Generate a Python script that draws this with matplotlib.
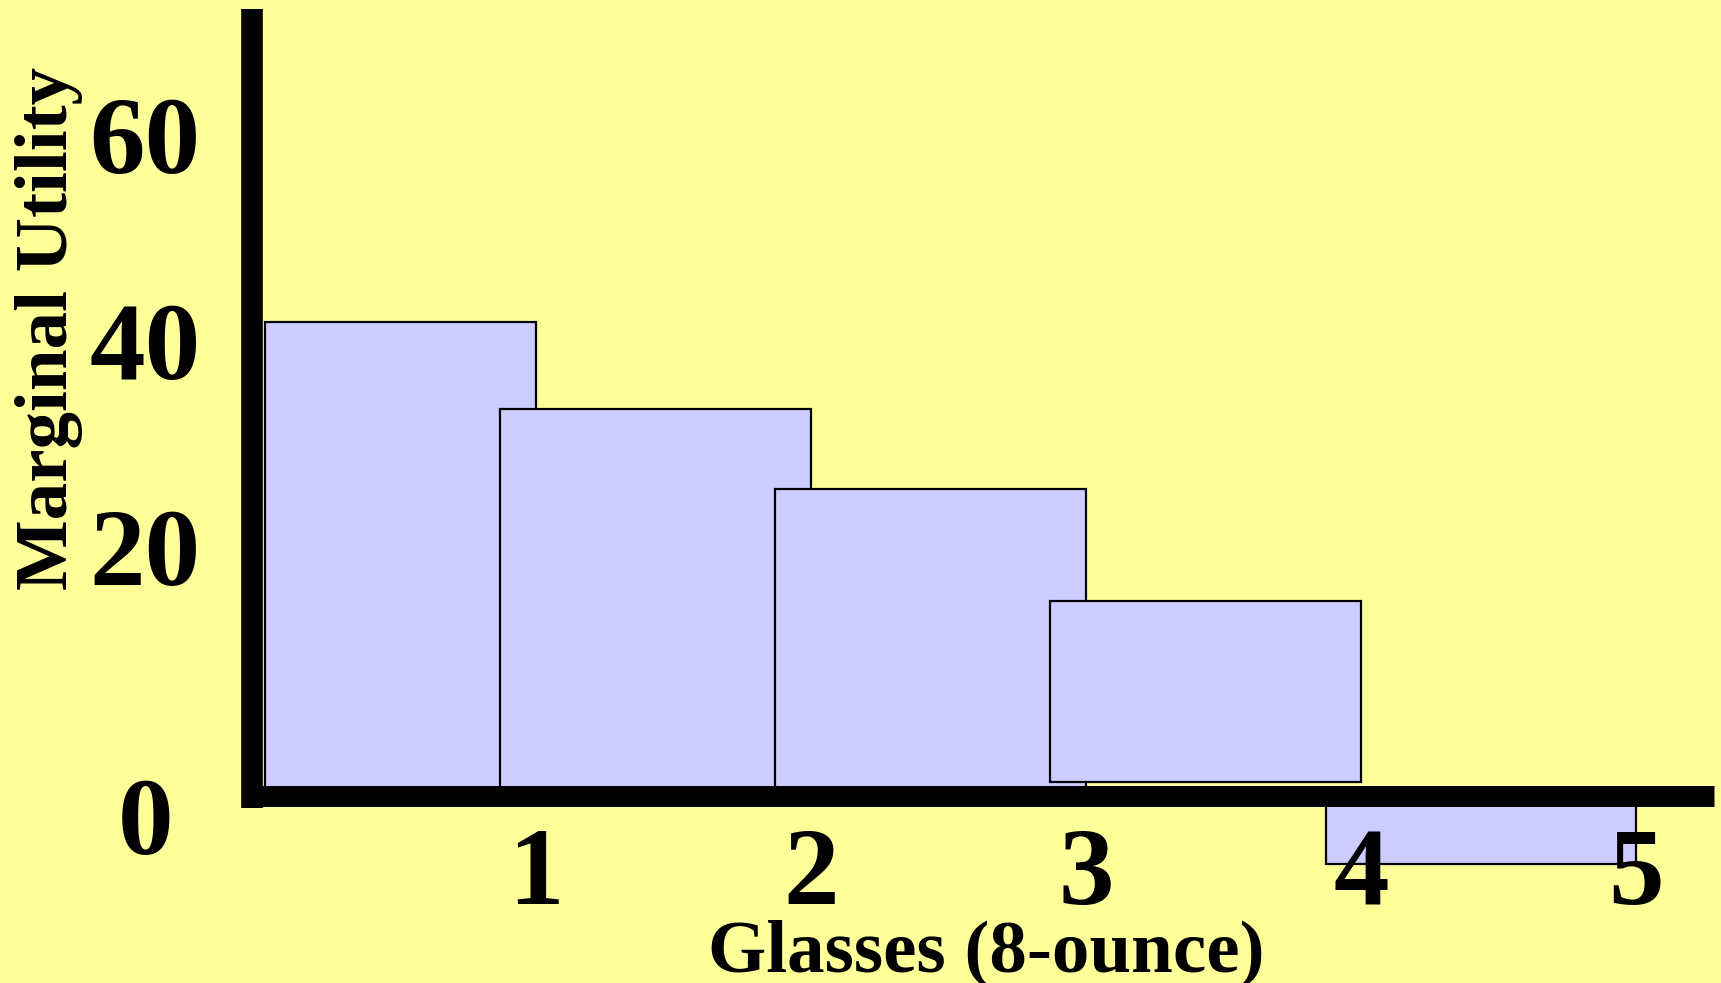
import numpy as np
import matplotlib
matplotlib.use("Agg")
import matplotlib.pyplot as plt

# ---- data ----
glasses = [1, 2, 3, 4, 5]
marginal_utility = [46.0, 37.6, 29.8, 18.9, -6.7]
y_tick_values = [20, 40, 60]
x_tick_labels = ["1", "2", "3", "4", "5"]
x_label = "Glasses (8-ounce)"
y_label = "Marginal Utility"

# ---- styling ----
BG = "#FFFF99"
BAR = "#CCCCFF"
FONT = ["Liberation Serif", "DejaVu Serif"]

W, H = 1721, 983
fig = plt.figure(figsize=(W / 100, H / 100), dpi=100, facecolor=BG)
ax = fig.add_axes([0, 0, 1, 1])
ax.set_facecolor(BG)

# pixel mapping chosen to match the reference layout
x0_px, x_unit = 260.9, 275.1
y0_px, y_unit = 795.5, 10.29
ax.set_xlim(-x0_px / x_unit, (W - x0_px) / x_unit)
ax.set_ylim((y0_px - H) / y_unit, y0_px / y_unit)

g = np.array(glasses, dtype=float)
right = g
left = np.maximum(g - 1.13, 0.015)
width = right - left
bottoms = np.zeros_like(g)
bottoms[3] = 1.3
heights = np.array(marginal_utility) - bottoms

ax.bar(left, heights, width=width, bottom=bottoms, align="edge",
       color=BAR, edgecolor="black", linewidth=1.6, zorder=1)

# axes lines
for s in ["top", "right"]:
    ax.spines[s].set_visible(False)
ax.spines["left"].set_position(("data", -0.032))
ax.spines["bottom"].set_position(("data", 0))
ax.spines["left"].set_bounds(-1.26, 76.48)
ax.spines["bottom"].set_bounds(-0.02, 5.282)
ax.spines["left"].set_linewidth(15.6)
ax.spines["bottom"].set_linewidth(15.1)
ax.spines["left"].set_capstyle("butt")
ax.spines["bottom"].set_capstyle("butt")
ax.spines["left"].set_zorder(3)
ax.spines["bottom"].set_zorder(3)
ax.set_xticks([])
ax.set_yticks([])

TICK_FS = 80
# tick labels
for v in y_tick_values:
    ax.text(-0.421, v + 0.5, str(v), ha="center", va="baseline",
            fontsize=TICK_FS, fontweight="bold", family=FONT)
ax.text(-0.418, -3.1, "0", ha="center", va="center",
        fontsize=TICK_FS, fontweight="bold", family=FONT)
for gx, lab in zip(glasses, x_tick_labels):
    ax.text(gx, -7.95, lab, ha="center", va="center",
            fontsize=TICK_FS, fontweight="bold", family=FONT, zorder=4)

ax.text(2.638, -17.1, x_label, ha="center", va="baseline",
        fontsize=54, fontweight="bold", family=FONT)
ax.text(-0.770, 45.4, y_label, ha="center", va="center", rotation=90,
        fontsize=54, fontweight="bold", family=FONT)

fig.savefig("out.png", dpi=100, facecolor=BG)
